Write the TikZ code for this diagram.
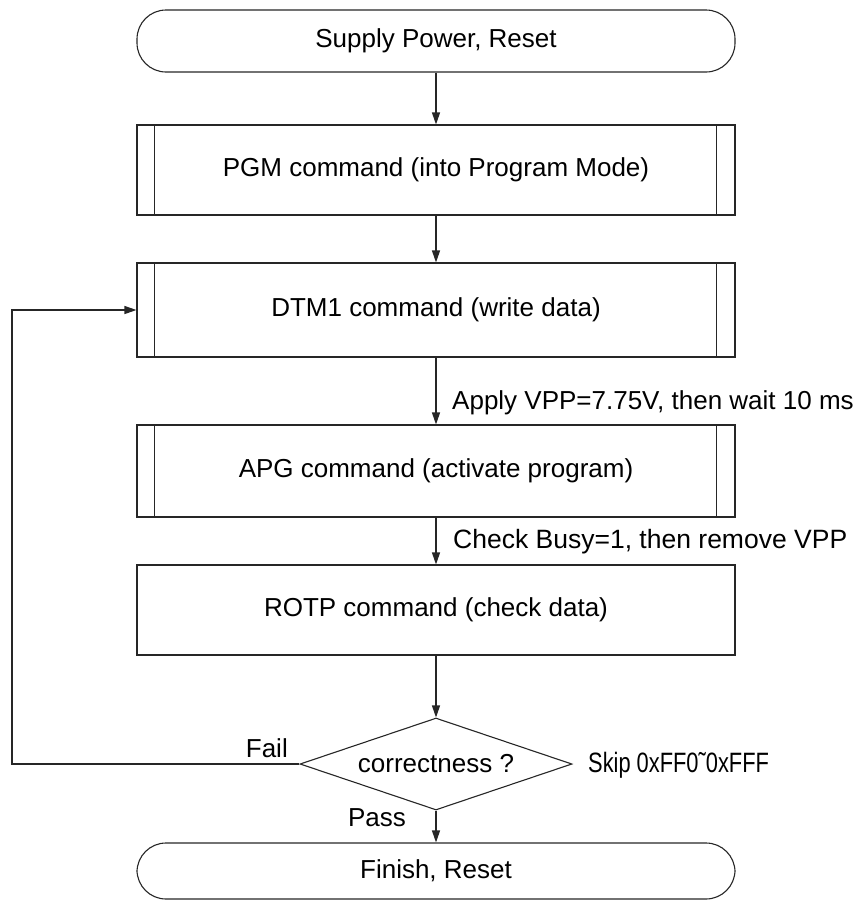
\documentclass[tikz,border=0pt]{standalone}
\usepackage{fontspec}
\setmainfont{Liberation Sans}
\newfontfamily\narrowsf[FakeStretch=0.78]{Liberation Sans}
\usetikzlibrary{shapes.geometric,arrows.meta}

\tikzset{
	every node/.style={font=\fontsize{26}{30}\selectfont, inner sep=0pt},
	line/.style={line width=1.1pt, draw=black!85},
	arr/.style={line, -{Triangle[length=12pt,width=8pt]}},
	term/.style={line, rectangle, rounded corners=29pt, minimum width=598pt},
	proc/.style={line, rectangle, minimum width=598pt, minimum height=92pt},
	decide/.style={line, diamond, aspect=2.96, minimum width=272pt, minimum height=92pt},
	lbl/.style={anchor=west}
}

\begin{document}
\begin{tikzpicture}[x=1pt,y=-1pt]
			\useasboundingbox (0,0) rectangle (866,903);
			% flow boxes
			\node[term, minimum height=62pt] (start) at (436,41) {Supply Power, Reset};
			\node[proc, minimum height=90pt] (pgm) at (436,170) {PGM command (into Program Mode)};
			\node[proc, minimum height=94pt] (dtm) at (436,310) {DTM1 command (write data)};
			\node[proc] (apg) at (436,471) {APG command (activate program)};
			\node[proc, minimum height=90pt] (rotp) at (436,610) {ROTP command (check data)};
			\node[decide] (chk) at (436,764) {correctness ?};
			\node[term, minimum height=56pt] (fin) at (436,871) {Finish, Reset};
			\foreach \n in {pgm,dtm,apg}{
				\draw[line] ([xshift=18pt]\n.north west) -- ([xshift=18pt]\n.south west);
				\draw[line] ([xshift=-19pt]\n.north east) -- ([xshift=-19pt]\n.south east);
			}
			% labels
			\node[lbl] (vpp) at (452,403) {Apply VPP=7.75V, then wait 10 ms};
			\node[lbl, font=\fontsize{26.5}{30}\selectfont] (busy) at (453,542) {Check Busy=1, then remove VPP};
			\node[anchor=east] (fail) at (288,748) {Fail};
			\node[lbl, font=\fontsize{28}{30}\narrowsf] (skip) at (588,765) {Skip 0xFF0\char"02DC 0xFFF};
			\node[anchor=east] (pass) at (406,818) {Pass};
			% arrows
			\coordinate (back) at (12,0);
			\draw[arr] (start) -- (pgm);
			\draw[arr] (pgm) -- (dtm);
			\draw[arr] (dtm) -- (apg);
			\draw[arr] (apg) -- (rotp);
			\draw[arr] (rotp) -- (chk);
			\draw[arr] (chk) -- (fin);
			\draw[arr] (chk.west) -- (chk.west -| back) |- (dtm.west);
		\end{tikzpicture}
\end{document}
